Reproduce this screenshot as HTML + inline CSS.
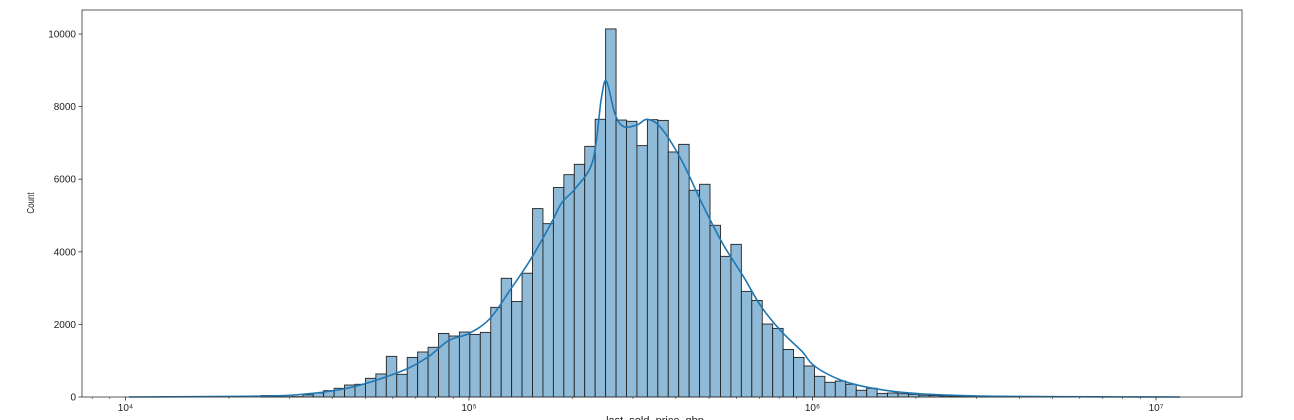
<!DOCTYPE html>
<html><head><meta charset="utf-8"><style>
html,body{margin:0;padding:0;background:#fff;}
svg{display:block;font-family:"Liberation Sans","DejaVu Sans",sans-serif;}
</style></head><body>
<svg id="chart" width="1294" height="420" viewBox="0 0 1294 420" xmlns="http://www.w3.org/2000/svg"></svg>
<script>
// data
const binStartLog = 4.3945;      // log10 of first bin left edge
const binWidthLog = 0.0304;      // bin width in decades
const counts = [40,40,40,10,60,110,175,240,330,350,515,635,1120,625,1090,1240,1370,1750,1680,1790,1725,1780,2470,3270,2630,3410,5190,4775,5770,6125,6410,6905,7650,10140,7630,7595,6925,7640,7620,6750,6960,5695,5860,4730,3875,4205,2910,2660,2010,1890,1310,1090,855,570,405,440,350,185,240,100,110,90,75,50,40,30,25,20,15,12,10,8,6,5,4,3,3,2,2,1];
const kdeLog = [4.01,4.36,4.50,4.65,4.80,4.88,4.94,5.00,5.06,5.12,5.18,5.24,5.27,5.31,5.36,5.385,5.40,5.425,5.45,5.49,5.52,5.56,5.62,5.68,5.74,5.80,5.85,5.91,5.97,6.00,6.05,6.11,6.20,6.31,6.43,6.54,6.83,7.07];
const kdeVal = [0,20,60,250,700,1100,1550,1750,2150,2950,3800,4800,5350,5750,6500,8200,8700,7800,7450,7500,7650,7400,6500,5300,4200,3300,2500,1800,1250,900,600,380,200,90,40,20,5,0];
const yTicks = [0,2000,4000,6000,8000,10000];
const xDecades = [4,5,6,7];

const svg = document.getElementById('chart');
const NS = 'http://www.w3.org/2000/svg';
const L=82,R=1242,T=10,B=397;
const xs = lg => 469 + (lg-5)*343.5;
const ys = v => B - v*0.0363;
function mk(tag, attrs){const e=document.createElementNS(NS,tag);for(const k in attrs)e.setAttribute(k,attrs[k]);svg.appendChild(e);return e;}

// bars
counts.forEach((c,i)=>{
  const x0=xs(binStartLog+i*binWidthLog), x1=xs(binStartLog+(i+1)*binWidthLog);
  const r=mk('rect',{x:x0,y:ys(c),width:x1-x0,height:B-ys(c),fill:'#8fbbd9',stroke:'#222','stroke-width':0.9});
  
  
});
// kde (catmull-rom smoothing)
const pts = kdeLog.map((lg,i)=>[xs(lg), ys(kdeVal[i])]);
let d='M'+pts[0][0].toFixed(1)+','+pts[0][1].toFixed(1);
for(let i=0;i<pts.length-1;i++){
  const p0=pts[Math.max(0,i-1)], p1=pts[i], p2=pts[i+1], p3=pts[Math.min(pts.length-1,i+2)];
  const c1=[p1[0]+(p2[0]-p0[0])/6, p1[1]+(p2[1]-p0[1])/6];
  const c2=[p2[0]-(p3[0]-p1[0])/6, p2[1]-(p3[1]-p1[1])/6];
  d+='C'+c1[0].toFixed(1)+','+c1[1].toFixed(1)+' '+c2[0].toFixed(1)+','+c2[1].toFixed(1)+' '+p2[0].toFixed(1)+','+p2[1].toFixed(1);
}
const kl=mk('path',{d:d,fill:'none',stroke:'#1f77b4','stroke-width':1.6,'stroke-linejoin':'round'});



// frame
const fr=mk('rect',{x:L,y:T,width:R-L,height:B-T,fill:'none',stroke:'#333','stroke-width':0.8});



// y ticks
yTicks.forEach(v=>{
  const y=ys(v);
  const tk=mk('line',{x1:L-3.5,x2:L,y1:y,y2:y,stroke:'#333','stroke-width':0.8});
  
  
  const t=mk('text',{x:L-6,y:y+3.5,'text-anchor':'end','font-size':10,fill:'#222'});
  t.textContent=v;
  
  
});
// x ticks
const sup={4:'⁴',5:'⁵',6:'⁶',7:'⁷'};
xDecades.forEach(dc=>{
  const x=xs(dc);
  const tk=mk('line',{x1:x,x2:x,y1:B,y2:B+3.5,stroke:'#333','stroke-width':0.8});
  
  
  const t=mk('text',{x:x,y:B+14,'text-anchor':'middle','font-size':10,fill:'#222'});
  t.textContent='10'+sup[dc];
  
  
});
for(let dc=3;dc<=7;dc++){for(let m=2;m<=9;m++){
  const x=xs(dc+Math.log10(m)); if(x<L||x>R) continue;
  const tk=mk('line',{x1:x,x2:x,y1:B,y2:B+2,stroke:'#333','stroke-width':0.6});
  
  
}}
const yl=mk('text',{x:0,y:0,'text-anchor':'middle','font-size':10,fill:'#222',transform:'translate(34,203) rotate(-90) scale(0.8,1)'});
yl.textContent='Count';


const xl=mk('text',{x:655,y:424,'text-anchor':'middle','font-size':11,fill:'#222'});
xl.textContent='last_sold_price_gbp';


</script>
</body></html>
